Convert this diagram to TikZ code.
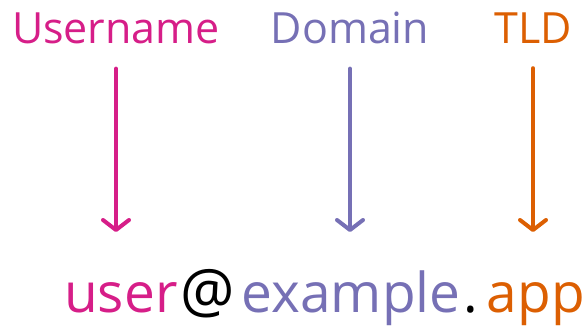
\documentclass[tikz,border=0pt]{standalone}
\usepackage{fontspec}
\setmainfont{Open Sans}
\usetikzlibrary{arrows.meta}

\definecolor{usercol}{HTML}{D61E88}
\definecolor{domcol}{HTML}{7670B5}
\definecolor{tldcol}{HTML}{DC5F02}

\tikzset{
  namelbl/.style={inner sep=0pt, anchor=base, font=\fontsize{43}{43}\selectfont},
  parttxt/.style={inner sep=0pt, anchor=base west, font=\fontsize{55}{55}\selectfont},
  pointer/.style={line width=4pt, line cap=round, shorten <=24pt, shorten >=80pt,
    -{Straight Barb[length=10pt,width=26pt,round]}}
}

\begin{document}
\begin{tikzpicture}[x=1pt,y=-1pt]
\useasboundingbox (0,0) rectangle (588,326);

% the three names on top
\node[namelbl, usercol] (nu) at (116,44) {Username};
\node[namelbl, domcol] (nd) at (350,44) {Domain};
\node[namelbl, tldcol] (nt) at (533,44) {TLD};

% the address, piece by piece
\node[parttxt, usercol] (pu) at (64,312) {user};
\node[parttxt, scale=1.1] (pat) at ([xshift=3pt]pu.base east) {@};
\node[parttxt, domcol] (pd) at ([xshift=6pt]pat.base east) {example};
\node[parttxt] (pdot) at ([xshift=3pt]pd.base east) {.};
\node[parttxt, tldcol] (pt) at ([xshift=8pt]pdot.base east) {app};

\draw[pointer, usercol] (nu.south) -- (nu.south |- pu.base);
\draw[pointer, domcol] (nd.south) -- (nd.south |- pd.base);
\draw[pointer, tldcol] (nt.south) -- (nt.south |- pt.base);
\end{tikzpicture}
\end{document}
